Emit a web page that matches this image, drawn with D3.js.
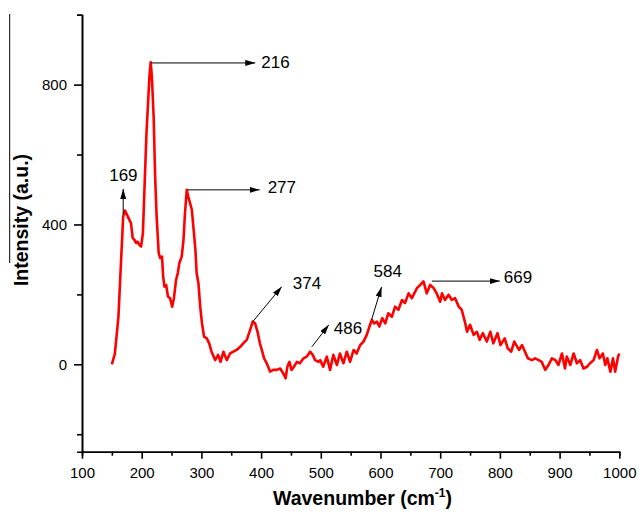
<!DOCTYPE html>
<html>
<head>
<meta charset="utf-8">
<script src="https://cdn.jsdelivr.net/npm/d3@7"></script>
<style>
  body { margin: 0; background: #fff; }
  svg { display: block; font-family: "Liberation Sans", Arial, Helvetica, sans-serif; }
  .axis path, .axis line { stroke: #000; stroke-width: 1.6; }
  .axis text { font-size: 15px; fill: #000; }
</style>
</head>
<body>
<svg id="chart" width="639" height="513"></svg>
<script>
// Raman spectrum (wavenumber in cm-1, intensity in a.u.)
var wavenumber = [150,155,161,165,169,172,178,182,185,188,190.5,193,196,199,202,204,208,213,215,217,220,222.5,225,228.5,231,234,236,238,241,244,247.5,251,254,257.5,260.5,263,267,270,272.5,275.5,278,281,284,287,290,292,295,298,301,304.5,309,313,317,323,328,332,337,342.5,348,353.5,359,365,370,376,381.5,386,390,394,398,402,405,409.5,415,420.5,426,432,437,441,444,447.5,451,455,460,465,471,476.5,482,486.5,490.5,496,499,504,510,515.5,521,527,532,538,543.5,549,555,560,566,571.5,577,581.5,585.5,589.5,594,598,603,608,613,619,624.5,630,636,641,647,652.5,661,666.5,672,677.5,683,689,694,700,703,708,714,719.5,725,731,736,742,745,750,756,761.5,766,771.5,778,784,789,796,801,808,813,819,824,832,837,842,847,853.5,859,865,870,876,881.5,887,893,898,904,909,912,918,923.5,929,934.5,940,946,951,957,962.5,967,972.5,976.5,980,985,989.5,993,998,1000];
var intensity  = [0,30,135,280,423,440,418,404,361,356,347,351,342,337,375,471,662,824,864,824,709,537,423,318,304,308,251,222,227,194,189,165,189,241,261,289,308,356,432,499,480,461,442,385,327,261,232,165,117,79,74,60,36,12,27,7,36,12,31,36,41,50,60,70,98,122,117,93,60,36,17,3,-21,-16,-16,-12,-26,-40,-7,7,-16,-7,7,3,17,22,36,27,12,7,12,-7,22,-16,27,-2,31,3,36,7,41,31,55,65,84,108,127,117,122,108,132,117,146,136,165,156,184,175,203,189,218,227,237,203,227,218,203,179,203,184,199,184,189,165,156,117,93,113,84,93,70,89,65,93,60,89,55,74,46,36,65,41,55,36,17,12,17,12,7,-16,-2,17,12,-2,31,-12,22,-2,31,3,12,-12,-7,3,12,41,17,31,-2,17,-21,17,-21,22,31];

// axis ticks
var xMajor = [100,200,300,400,500,600,700,800,900,1000];
var xMinor = [150,250,350,450,550,650,750,850,950];
var yMajor = [0,400,800];
var yMinor = [-200,200,600,1000];

// peak labels: text, anchor point on the curve
var peakLabels = ["169","216","277","374","486","584","669"];
var peakX = [169,216,277,386,485,585,686];
var peakY = [430,862,499,122,50,127,238];

var svg = d3.select("#chart");

var x = d3.scaleLinear().domain([100, 1000]).range([82, 619.3]);
var y = d3.scaleLinear().domain([-250, 1000]).range([451.7, 14.7]);

// stray frame line on the left edge of the original figure
svg.append("line")
  .attr("x1", 9.7).attr("x2", 9.7)
  .attr("y1", 14).attr("y2", 263)
  .attr("stroke", "#000").attr("stroke-width", 1);

// axes
svg.append("g").attr("class", "axis")
  .attr("transform", "translate(0,451.7)")
  .call(d3.axisBottom(x).tickValues(xMinor).tickSize(4).tickFormat(""));
svg.append("g").attr("class", "axis")
  .attr("transform", "translate(0,451.7)")
  .call(d3.axisBottom(x).tickValues(xMajor).tickSize(7).tickPadding(9)
    .tickSizeOuter(0).tickFormat(d3.format("d")));

svg.append("g").attr("class", "axis")
  .attr("transform", "translate(82,0)")
  .call(d3.axisLeft(y).tickValues(yMinor).tickSize(5).tickFormat(""));
svg.append("g").attr("class", "axis")
  .attr("transform", "translate(82,0)")
  .call(d3.axisLeft(y).tickValues(yMajor).tickSize(8).tickPadding(7)
    .tickSizeOuter(0).tickFormat(d3.format("d")));

// axis titles
var xt = svg.append("text")
  .attr("x", 273).attr("y", 505)
  .attr("font-size", 19.5).attr("font-weight", "bold");
xt.append("tspan").text("Wavenumber (cm");
xt.append("tspan").attr("font-size", 12).attr("dy", -8).text("-1");
xt.append("tspan").attr("dy", 8).text(")");

svg.append("text")
  .attr("transform", "translate(28,220) rotate(-90)")
  .attr("text-anchor", "middle")
  .attr("font-size", 19.5).attr("font-weight", "bold")
  .text("Intensity (a.u.)");

// spectrum
var pts = wavenumber.map(function(d, i) { return [d, intensity[i]]; });
var line = d3.line()
  .x(function(d) { return x(d[0]); })
  .y(function(d) { return y(d[1]); });

svg.append("path")
  .datum(pts)
  .attr("d", line)
  .attr("fill", "none")
  .attr("stroke", "#ff0000")
  .attr("stroke-width", 2.6)
  .attr("stroke-linejoin", "round");

// arrow marker
svg.append("defs").append("marker")
  .attr("id", "arr")
  .attr("viewBox", "0 0 10 6")
  .attr("refX", 10).attr("refY", 3)
  .attr("markerWidth", 10).attr("markerHeight", 6)
  .attr("markerUnits", "userSpaceOnUse")
  .attr("orient", "auto")
  .append("path").attr("d", "M0,0L10,3L0,6Z").attr("fill", "#000");

// arrow ends (dx, dy in px from anchor) and label offsets
var arrowDX = [0, 104, 72, 29, 17, 10, 68];
var arrowDY = [-25, 0, 0, -35, -22, -33, 0];
var textDX = [-14, 110, 80, 40, 22, 2, 72];
var textDY = [-33, 5, 3, -33, -13, -43, 2];

peakLabels.forEach(function(lbl, i) {
  var px = x(peakX[i]), py = y(peakY[i]);
  svg.append("line")
    .attr("x1", px).attr("y1", py)
    .attr("x2", px + arrowDX[i]).attr("y2", py + arrowDY[i])
    .attr("stroke", "#000").attr("stroke-width", 1)
    .attr("marker-end", "url(#arr)");
  svg.append("text")
    .attr("x", px + textDX[i]).attr("y", py + textDY[i])
    .attr("font-size", 17)
    .text(lbl);
});
</script>
</body>
</html>
